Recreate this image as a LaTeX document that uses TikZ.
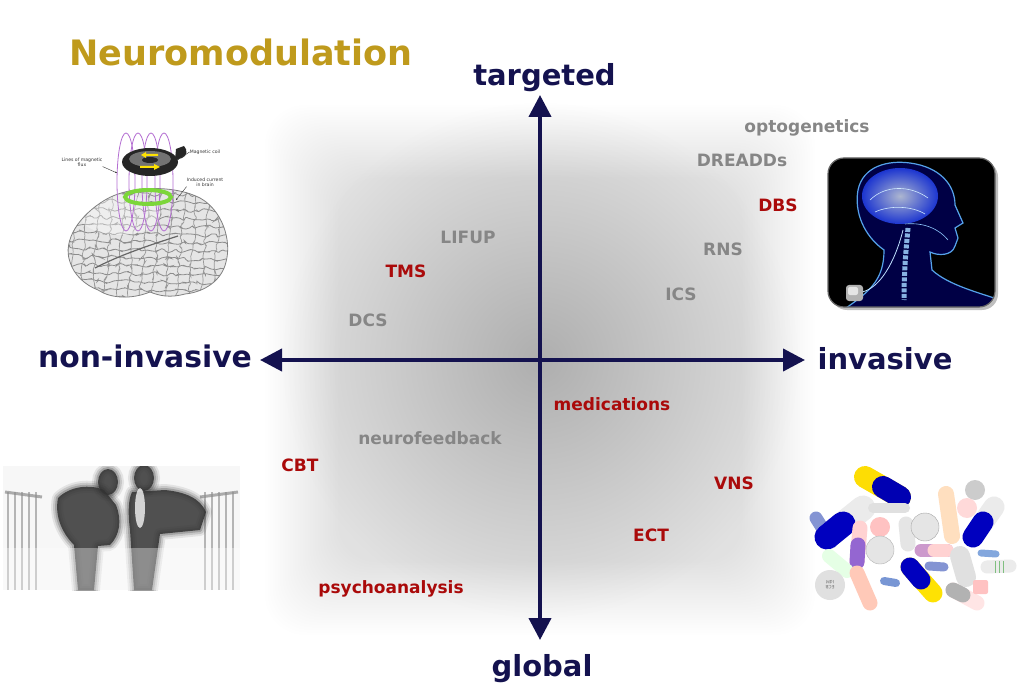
\documentclass[tikz,border=0pt]{standalone}
\usepackage{fontspec}
\setmainfont{DejaVu Sans}
\usetikzlibrary{arrows.meta,shadows,decorations.pathmorphing}
\definecolor{navy}{HTML}{14124F}
\definecolor{gold}{HTML}{BF9A1C}
\definecolor{dred}{HTML}{AA0A0A}
\definecolor{lgray}{HTML}{868686}
\definecolor{lime}{HTML}{7CD63A}
\definecolor{glow}{HTML}{5FB4FF}
\definecolor{flux}{HTML}{B46ED2}
\begin{document}
\begin{tikzpicture}[x=1pt,y=-1pt,
  axislab/.style={font=\bfseries\fontsize{29}{31}\selectfont, text=navy, inner sep=0pt, anchor=base},
  itemr/.style={font=\bfseries\fontsize{17}{19}\selectfont, text=dred, inner sep=0pt, anchor=base},
  itemg/.style={font=\bfseries\fontsize{17}{19}\selectfont, text=lgray, inner sep=0pt, anchor=base},
  axisline/.style={line width=4pt, draw=navy, {Triangle[width=22pt,length=22pt]}-{Triangle[width=22pt,length=22pt]}},
  tinylab/.style={font=\fontsize{4.6}{5.2}\selectfont, align=center, inner sep=0pt, text=black!80},
  tinyarrow/.style={draw=black!80, line width=0.4pt, -{Stealth[length=2pt,width=1.6pt]}},
  pillc/.style={line cap=round},
]
\useasboundingbox (0,0) rectangle (1024,700);
\fill[white] (0,0) rectangle (1024,700);

% ---------- background gradient ----------
\shade[inner color=black!20, outer color=white] (540,360) circle (260);
\foreach \i in {0,...,29}{
  \fill[black, opacity=0.0056, rounded corners=40] (265+2.5*\i,105+2.5*\i) rectangle (815-2.5*\i,635-2.5*\i);
}

% ---------- title ----------
\node[font=\bfseries\fontsize{35}{38}\selectfont, text=gold, inner sep=0pt, anchor=base] (title) at (241,66) {Neuromodulation};

% ---------- axes ----------
\coordinate (top) at (540,95);
\coordinate (bottom) at (540,640);
\coordinate (left) at (260,360);
\coordinate (right) at (805,360);
\draw[axisline] (bottom) -- (top);
\draw[axisline] (left) -- (right);

\node[axislab] (targeted) at (544.5,86) {targeted};
\node[axislab] (global) at (542,676) {global};
\node[axislab, font=\bfseries\fontsize{29.8}{31}\selectfont] (noninv) at (145,367) {non-invasive};
\node[axislab] (inv) at (885,369) {invasive};

% ---------- items ----------
\node[itemg] (opto) at (807,133) {optogenetics};
\node[itemg] (dreadd) at (742,167) {DREADDs};
\node[itemr] (dbs) at (778,212) {DBS};
\node[itemg] (rns) at (723,256) {RNS};
\node[itemg] (ics) at (681,300) {ICS};
\node[itemg] (lifup) at (468,244) {LIFUP};
\node[itemr] (tms) at (406,277) {TMS};
\node[itemg] (dcs) at (368,326) {DCS};
\node[itemr] (med) at (612,410) {medications};
\node[itemg] (nfb) at (430,444) {neurofeedback};
\node[itemr] (cbt) at (300,471) {CBT};
\node[itemr] (vns) at (734,489) {VNS};
\node[itemr] (ect) at (651,541) {ECT};
\node[itemr] (psy) at (391,593) {psychoanalysis};

% ---------- TMS brain picture ----------
\def\brainpath{(70,262) .. controls (62,240) and (80,215) .. (105,200) .. controls (130,185) and (175,185) .. (200,198) .. controls (222,210) and (232,240) .. (226,262) .. controls (222,280) and (205,292) .. (185,294) .. controls (170,298) and (160,296) .. (150,292) .. controls (130,300) and (110,298) .. (98,290) .. controls (85,285) and (74,275) .. (70,262) -- cycle}
\fill[black!10] \brainpath;
\begin{scope}
  \clip \brainpath;
  \pgfmathsetseed{7}
  \foreach \yy in {192,200,...,300}{
    \draw[black!45, line width=0.8pt, rounded corners=2pt, decorate, decoration={random steps, segment length=4pt, amplitude=2.5pt}] (55,\yy) -- (240,\yy+4);
  }
  \foreach \xx in {78,90,...,230}{
    \draw[black!40, line width=0.7pt, rounded corners=2pt, decorate, decoration={random steps, segment length=4pt, amplitude=2.2pt}] (\xx,185) -- (\xx-10,300);
  }
  \draw[black!60, line width=1.2pt] (95,268) .. controls (120,255) and (150,245) .. (178,236);
  \shade[inner color=white, outer color=white, opacity=0.35] (120,215) ellipse (40 and 20);
\end{scope}
\draw[black!50, line width=0.8pt] \brainpath;
% flux lines
\foreach \cx in {126,138,151,164}{
  \draw[flux, line width=0.8pt] (\cx,182) ellipse (9 and 49);
}
% induced current ring
\draw[lime, line width=4pt] (148,197) ellipse (23 and 7);
% coil
\fill[black!85] (176,149) -- (184,146) .. controls (188,150) and (187,156) .. (182,158) -- (175,160) -- cycle;
\fill[black!85] (150,162) ellipse (28 and 14);
\fill[black!55] (150,159) ellipse (21 and 8);
\fill[black!85] (150,160) ellipse (8 and 3);
\fill[yellow!85!orange] (158,154) -- (146,154) -- (146,152) -- (141,155) -- (146,158) -- (146,156) -- (158,156) -- cycle;
\fill[yellow!85!orange] (140,166) -- (154,166) -- (154,164) -- (160,167) -- (154,170) -- (154,168) -- (140,168) -- cycle;
% labels
\node[tinylab] (lflux) at (82,162) {Lines of magnetic\\flux};
\node[tinylab] (lcoil) at (205,152) {Magnetic coil};
\node[tinylab] (lind) at (205,182) {Induced current\\in brain};
\coordinate (pflux) at (117,173);
\coordinate (pcoil) at (177,160);
\coordinate (pind) at (176,200);
\draw[tinyarrow] (lflux.south east) -- (pflux);
\draw[tinyarrow] (lcoil.west) -- (pcoil);
\draw[tinyarrow] (lind.south west) -- (pind);

% ---------- DBS head picture ----------
\def\framepath{(828,158) rectangle (995,307)}
\fill[black, rounded corners=16, drop shadow={shadow xshift=3pt, shadow yshift=-3pt, opacity=0.5}] \framepath;
\begin{scope}
  \clip[rounded corners=16] \framepath;
  \def\headpath{(840,312) .. controls (870,292) and (884,280) .. (884,250) .. controls (864,236) and (854,212) .. (858,190) .. controls (863,166) and (888,160) .. (910,163) .. controls (940,167) and (955,185) .. (955,205) -- (963,223) -- (955,228) -- (958,238) -- (955,246) .. controls (952,256) and (938,256) .. (930,252) -- (932,270) .. controls (948,285) and (980,293) .. (1000,300) -- (1000,312) -- cycle}
  \fill[blue!60!black, opacity=0.45] \headpath;
  \draw[glow, line width=1.2pt, opacity=0.9] \headpath;
  \shade[inner color=white!85!glow, outer color=blue!60!glow, opacity=0.75] (900,196) ellipse (38 and 28);
  \draw[white!70!glow, line width=0.6pt] (870,200) .. controls (885,185) and (910,185) .. (928,198);
  \draw[white!70!glow, line width=0.6pt] (875,212) .. controls (890,205) and (912,206) .. (925,214);
  \draw[glow!70!white, line width=0.6pt] (905,224) .. controls (925,222) and (940,230) .. (948,240);
  \draw[glow!60!white, line width=5pt, dash pattern=on 4pt off 1.5pt, opacity=0.85] (908,228) .. controls (906,250) and (904,270) .. (904,300);
  \draw[white!60!glow, line width=0.8pt] (862,292) .. controls (880,288) and (895,262) .. (903,230);
  \fill[black!30, rounded corners=3] (846,285) rectangle (863,301);
  \fill[black!10, rounded corners=2] (848,287) rectangle (858,295);
\end{scope}
\draw[black!60, line width=1.2pt, rounded corners=16] \framepath;

% ---------- psychotherapy silhouette picture ----------
\begin{scope}
  \clip (3,466) rectangle (240,590);
  \fill[black!3] (3,466) rectangle (240,590);
  % chairs
  \foreach \bx in {8,15,22,29,36}{
    \draw[black!40, line width=2.2pt, opacity=0.7] (\bx,492) -- (\bx,590);
  }
  \draw[black!45, line width=3pt, opacity=0.7] (5,492) -- (42,497);
  \foreach \bx in {205,212,219,226,233}{
    \draw[black!40, line width=2.2pt, opacity=0.7] (\bx,492) -- (\bx,590);
  }
  \draw[black!45, line width=3pt, opacity=0.7] (200,497) -- (238,492);
  % left figure
  \def\leftfig{(58,498) .. controls (70,486) and (90,484) .. (104,490) -- (116,505) .. controls (122,520) and (120,535) .. (110,545) -- (98,546) -- (94,590) -- (78,590) -- (74,545) .. controls (64,535) and (54,518) .. (58,498) -- cycle}
  \foreach \w/\o in {12/0.08,8/0.12,4/0.18}{
    \draw[black, line width=\w pt, opacity=\o, line join=round] \leftfig;
    \draw[black, line width=\w pt, opacity=\o] (108,482) ellipse (10 and 13);
  }
  \fill[black!80, opacity=0.85] \leftfig;
  \fill[black!80, opacity=0.85] (108,482) ellipse (10 and 13);
  % right figure
  \def\rightfig{(132,492) -- (165,490) .. controls (185,492) and (200,498) .. (206,512) -- (200,530) -- (160,534) -- (152,590) -- (134,590) -- (130,530) .. controls (128,515) and (128,500) .. (132,492) -- cycle}
  \foreach \w/\o in {12/0.08,8/0.12,4/0.18}{
    \draw[black, line width=\w pt, opacity=\o, line join=round] \rightfig;
    \draw[black, line width=\w pt, opacity=\o] (144,478) ellipse (10 and 13);
  }
  \fill[black!80, opacity=0.85] \rightfig;
  \fill[black!80, opacity=0.85] (144,478) ellipse (10 and 13);
  \fill[white, opacity=0.75] (140,508) ellipse (5 and 20);
  % lighter lower half (reflection)
  \fill[white, opacity=0.35] (3,548) rectangle (240,590);
\end{scope}

% ---------- pills picture ----------
\draw[pillc, line width=22pt, draw=yellow!80!orange] (865,477) -- (900,497);
\draw[pillc, line width=22pt, draw=blue!70!black] (883,487) -- (900,497);
\draw[pillc, line width=13pt, draw=cyan!30!blue!50!white] (816,518) -- (831,542);
\draw[pillc, line width=25pt, draw=white!92!black] (827,537) -- (863,508);
\draw[pillc, line width=25pt, draw=blue!75!black] (827,537) -- (843,524);
\draw[pillc, line width=10pt, draw=white!88!black] (873,508) -- (905,508);
\fill[pink!80!red!60!white] (880,527) circle (10);
\draw[pillc, line width=15pt, draw=white!90!black] (906,524) -- (908,544);
\fill[white!90!black] (925,527) circle (14);
\draw[black!35, line width=0.4pt] (925,527) circle (14);
\draw[pillc, line width=16pt, draw=orange!25!white] (946,494) -- (952,536);
\fill[black!20] (975,490) circle (10);
\fill[pink!60!white] (967,508) circle (10);
\draw[pillc, line width=21pt, draw=white!92!black] (994,507) -- (973,537);
\draw[pillc, line width=21pt, draw=blue!75!black] (983,522) -- (973,537);
\draw[pillc, line width=15pt, draw=pink!70!white] (860,528) -- (857,562);
\draw[pillc, line width=15pt, draw=blue!40!violet!60!white] (858,545) -- (857,562);
\fill[white!90!black] (880,550) circle (14);
\draw[black!30, line width=0.4pt] (880,550) circle (14);
\draw[pillc, line width=13pt, draw=violet!40!white] (921,550) -- (947,550);
\draw[pillc, line width=13pt, draw=pink!70!white] (934,550) -- (947,550);
\draw[pillc, line width=20pt, draw=white!88!black] (960,556) -- (966,577);
\draw[pillc, line width=7pt, draw=cyan!50!blue!50!white] (981,553) -- (996,554);
\draw[pillc, line width=13pt, draw=white!92!black] (987,567) -- (1010,566);
\draw[green!50!black!50!white, line width=0.6pt] (995,561) -- (995,573) (999,561) -- (999,573) (1003,561) -- (1003,573);
\draw[pillc, line width=14pt, draw=white!90!green] (829,556) -- (847,571);
\draw[pillc, line width=19pt, draw=yellow!85!orange] (910,567) -- (933,593);
\draw[pillc, line width=19pt, draw=blue!75!black] (910,567) -- (921,580);
\draw[pillc, line width=9pt, draw=cyan!30!blue!50!white] (929,566) -- (944,567);
\fill[black!12] (830,585) circle (15);
\node[font=\fontsize{4.5}{5}\selectfont, text=black!55, align=center, inner sep=0pt, rotate=180] (pilltext) at (830,585) {ECB\\IdM};
\draw[pillc, line width=15pt, draw=orange!20!pink!70!white] (857,573) -- (870,603);
\draw[pillc, line width=8pt, draw=cyan!40!blue!55!white] (884,581) -- (896,583);
\draw[pillc, line width=15pt, draw=pink!40!white] (953,590) -- (977,603);
\draw[pillc, line width=15pt, draw=black!30] (953,590) -- (963,595);
\fill[pink!70!red!50!white, rounded corners=2] (973,580) rectangle (988,594);
\end{tikzpicture}
\end{document}
